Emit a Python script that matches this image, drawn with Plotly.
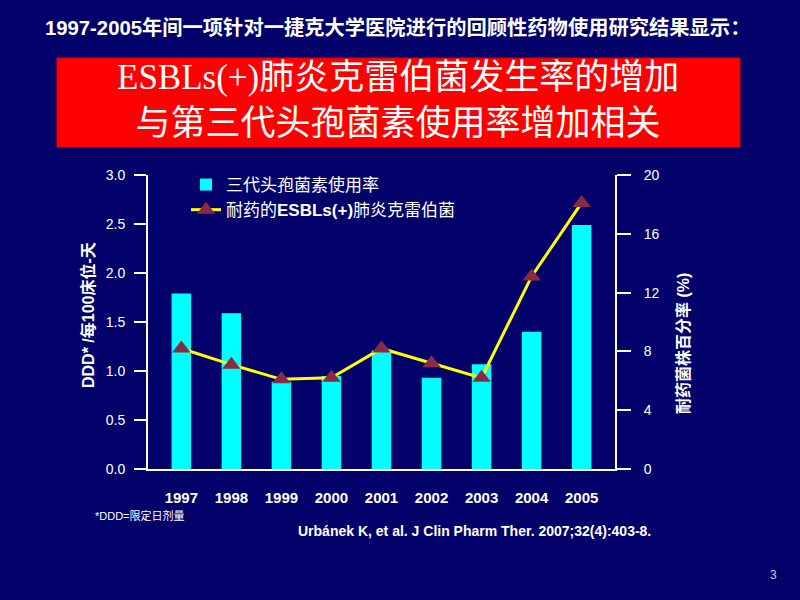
import plotly.graph_objects as go

years = ["1997", "1998", "1999", "2000", "2001", "2002", "2003", "2004", "2005"]
ceph_use = [1.79, 1.59, 0.89, 0.95, 1.21, 0.93, 1.07, 1.40, 2.49]
esbl_rate = [8.2, 7.1, 6.1, 6.2, 8.2, 7.2, 6.2, 13.1, 18.1]

bar_name = "三代头孢菌素使用率"
line_name = "耐药的<b>ESBLs(+)</b>肺炎克雷伯菌"
left_title = "DDD* /每100床位-天"
right_title = "耐药菌株百分率 (%)"
left_ticks = [0, 0.5, 1.0, 1.5, 2.0, 2.5, 3.0]
left_ticklabels = ["0.0", "0.5", "1.0", "1.5", "2.0", "2.5", "3.0"]
right_ticks = [0, 4, 8, 12, 16, 20]

BG = "#02026A"
SANS = "Liberation Sans, Arial, Noto Sans CJK SC, sans-serif"

# plot area in pixels
L, R, T, B = 148, 615, 175, 469
PW, PH = R - L, B - T


def px(x):
    return (x - L) / PW


def py(y):
    return (B - y) / PH


fig = go.Figure()
fig.add_trace(go.Bar(
    x=years, y=ceph_use, name=bar_name,
    marker=dict(color="#00FFFF", line=dict(width=0)),
    width=0.39, yaxis="y",
))
fig.add_trace(go.Scatter(
    x=years, y=esbl_rate, name=line_name, yaxis="y2",
    mode="lines+markers",
    line=dict(color="#FFFF00", width=3),
    marker=dict(symbol="triangle-up", size=16, color="#8A2B45",
                line=dict(width=0)),
))

fig.update_layout(
    width=800, height=600,
    paper_bgcolor=BG, plot_bgcolor=BG,
    margin=dict(l=L, r=800 - R, t=T, b=600 - B),
    showlegend=True,
    legend=dict(
        x=px(186), y=py(167), xanchor="left", yanchor="top",
        bgcolor="rgba(0,0,0,0)",
        font=dict(family=SANS, size=17, color="white"),
        itemwidth=30, tracegroupgap=0,
    ),
    xaxis=dict(
        type="category", showgrid=False, zeroline=False,
        showline=True, linecolor="white", linewidth=2,
        ticks="", tickfont=dict(family=SANS, size=15, color="white"),
        ticklabelstandoff=14,
    ),
    yaxis=dict(
        range=[0, 3], tickvals=left_ticks, ticktext=left_ticklabels,
        showgrid=False, zeroline=False,
        showline=True, linecolor="white", linewidth=2,
        ticks="outside", ticklen=12, tickcolor="white", tickwidth=2,
        tickfont=dict(family=SANS, size=14, color="white"),
        ticklabelstandoff=6,
    ),
    yaxis2=dict(
        range=[0, 20], tickvals=right_ticks, overlaying="y", side="right",
        showgrid=False, zeroline=False,
        showline=True, linecolor="white", linewidth=2,
        ticks="outside", ticklen=14, tickcolor="white", tickwidth=2,
        tickfont=dict(family=SANS, size=14, color="white"),
        ticklabelstandoff=10,
    ),
    font=dict(family=SANS, color="white"),
)

fig.update_xaxes(tickprefix="<b>", ticksuffix="</b>")
fig.update_yaxes(tickprefix="<b>", ticksuffix="</b>")

# axis titles
fig.add_annotation(
    xref="paper", yref="paper", x=px(88), y=py(315),
    text="<b>" + left_title + "</b>", textangle=-90, showarrow=False,
    xanchor="center", yanchor="middle",
    font=dict(family=SANS, size=16, color="white"),
)
fig.add_annotation(
    xref="paper", yref="paper", x=px(683), y=py(344),
    text="<b>" + right_title + "</b>", textangle=-90, showarrow=False,
    xanchor="center", yanchor="middle",
    font=dict(family=SANS, size=16, color="white"),
)

# red title box
fig.add_shape(type="rect", xref="paper", yref="paper",
              x0=px(57), x1=px(740), y0=py(147), y1=py(58),
              fillcolor="#FF0000", line=dict(color="#E00000", width=1), layer="below")

fig.add_annotation(
    xref="paper", yref="paper", x=px(398), y=py(101),
    text="ESBLs(+)肺炎克雷伯菌发生率的增加<br>与第三代头孢菌素使用率增加相关",
    showarrow=False, xanchor="center", yanchor="middle",
    font=dict(family="Liberation Serif, Times New Roman, Noto Sans CJK SC, serif",
              size=35, color="white"),
    align="center",
)

fig.add_annotation(
    xref="paper", yref="paper", x=px(43), y=py(27),
    text="<b>1997-2005年间一项针对一捷克大学医院进行的回顾性药物使用研究结果显示：</b>",
    showarrow=False, xanchor="left", yanchor="middle",
    font=dict(family=SANS, size=20.3, color="white"),
)

fig.add_annotation(
    xref="paper", yref="paper", x=px(93), y=py(515),
    text="*DDD=限定日剂量", showarrow=False, xanchor="left", yanchor="middle",
    font=dict(family=SANS, size=11, color="white"),
)

fig.add_annotation(
    xref="paper", yref="paper", x=px(653), y=py(531),
    text="<b>Urbánek K, et al. J Clin Pharm Ther. 2007;32(4):403-8.</b>",
    showarrow=False, xanchor="right", yanchor="middle",
    font=dict(family="Liberation Sans Narrow, Liberation Sans, sans-serif", size=14, color="white"),
)

fig.add_annotation(
    xref="paper", yref="paper", x=px(773), y=py(575),
    text="3", showarrow=False, xanchor="center", yanchor="middle",
    font=dict(family=SANS, size=12, color="#C8C8E0"),
)

fig.write_html(
    "out.html",
    config={"displayModeBar": False},
    post_script="document.body.style.margin='0';document.body.style.background='" + BG + "';",
)
